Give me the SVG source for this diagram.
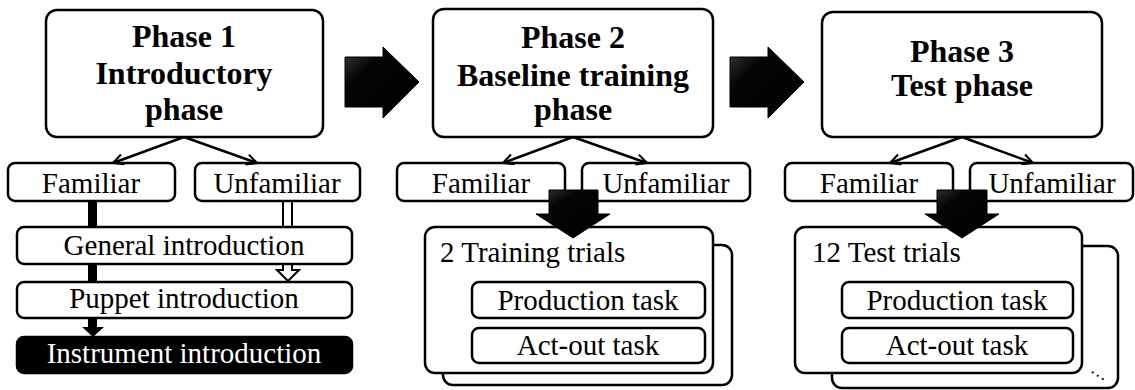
<svg xmlns="http://www.w3.org/2000/svg" width="1135" height="390" viewBox="0 0 1135 390">
<style>
.box{fill:#fff;stroke:#000;stroke-width:2.5}
.t{font-family:'Liberation Serif',Tinos,'Times New Roman',Times,'DejaVu Serif',serif;font-size:29px;fill:#000}
.c{text-anchor:middle}
.h{font-family:'Liberation Serif',Tinos,'Times New Roman',Times,'DejaVu Serif',serif;font-size:32px;font-weight:bold;text-anchor:middle;fill:#000}
.ln{stroke:#000;stroke-width:2.5;fill:none;marker-end:url(#open)}
.big{fill:url(#g);stroke:#000;stroke-width:1}
</style>
<defs>
<marker id="open" viewBox="0 0 12 12" refX="11" refY="6" markerWidth="5" markerHeight="5" orient="auto" markerUnits="strokeWidth">
<path d="M1,1 L11,6 L1,11" fill="none" stroke="#000" stroke-width="2"/>
</marker>
<linearGradient id="g" x1="0" y1="0" x2="1" y2="1">
<stop offset="0" stop-color="#3a3a3a"/>
<stop offset="0.3" stop-color="#050505"/>
<stop offset="1" stop-color="#000"/>
</linearGradient>
</defs>
<rect width="1135" height="390" fill="#fff"/>
<g id="connectors-back">
<path d="M88,201 V327 H82 L93,337 L104,327 H97 V201 Z" fill="#000"/>
<path d="M283,201 V270 H277 L288,281 L299,270 H292 V201 Z" fill="#fff" stroke="#000" stroke-width="2"/>
</g>
<g id="phase1">
<rect class="box" x="46" y="10" width="277" height="127" rx="11"/>
<text class="h" x="184" y="47">Phase 1</text>
<text class="h" x="184" y="84">Introductory</text>
<text class="h" x="184" y="120">phase</text>
</g>
<g id="phase2">
<rect class="box" x="433" y="9" width="280" height="128" rx="11"/>
<text class="h" x="573" y="48">Phase 2</text>
<text class="h" x="573" y="86">Baseline training</text>
<text class="h" x="573" y="120">phase</text>
</g>
<g id="phase3">
<rect class="box" x="822" y="12" width="280" height="125" rx="11"/>
<text class="h" x="962" y="62">Phase 3</text>
<text class="h" x="962" y="96">Test phase</text>
</g>
<g id="p1-familiar">
<rect class="box" x="8" y="163" width="167" height="38" rx="7"/>
<text class="t c" x="91" y="193">Familiar</text>
</g>
<g id="p1-unfamiliar">
<rect class="box" x="195" y="163" width="165" height="38" rx="7"/>
<text class="t c" x="277" y="193">Unfamiliar</text>
</g>
<g id="general-intro">
<rect class="box" x="17" y="227" width="335" height="37" rx="7"/>
<text class="t c" x="184" y="255">General introduction</text>
</g>
<g id="puppet-intro">
<rect class="box" x="17" y="282" width="335" height="36" rx="7"/>
<text class="t c" x="184" y="308">Puppet introduction</text>
</g>
<g id="instrument-intro">
<rect x="17" y="337" width="335" height="36" rx="7" fill="#000" stroke="#000" stroke-width="2.5"/>
<text class="t c" x="184" y="363" style="fill:#fff">Instrument introduction</text>
</g>
<g id="p2-familiar">
<rect class="box" x="397" y="163" width="168" height="38" rx="7"/>
<text class="t c" x="481" y="193">Familiar</text>
</g>
<g id="p2-unfamiliar">
<rect class="box" x="582" y="163" width="168" height="38" rx="7"/>
<text class="t c" x="666" y="193">Unfamiliar</text>
</g>
<g id="p2-trials">
<rect class="box" x="443" y="245" width="289" height="140" rx="10"/>
<rect class="box" x="425" y="227" width="288" height="146" rx="10"/>
<text class="t" x="440" y="262">2 Training trials</text>
</g>
<g id="p2-production">
<rect class="box" x="472" y="282" width="233" height="36" rx="7"/>
<text class="t c" x="588" y="310">Production task</text>
</g>
<g id="p2-actout">
<rect class="box" x="472" y="328" width="233" height="35" rx="7"/>
<text class="t c" x="588" y="355">Act-out task</text>
</g>
<g id="p3-familiar">
<rect class="box" x="785" y="163" width="168" height="38" rx="7"/>
<text class="t c" x="869" y="193">Familiar</text>
</g>
<g id="p3-unfamiliar">
<rect class="box" x="970" y="163" width="163" height="38" rx="7"/>
<text class="t c" x="1052" y="193">Unfamiliar</text>
</g>
<g id="p3-trials">
<rect class="box" x="832" y="246" width="286" height="142" rx="10"/>
<rect class="box" x="795" y="227" width="287" height="146" rx="10"/>
<text class="t" x="812" y="262">12 Test trials</text>
<text x="1099" y="377" transform="rotate(33 1099 374)" style="font-family:'Liberation Serif',Tinos,'DejaVu Serif',serif;font-size:18px;text-anchor:middle">…</text>
</g>
<g id="p3-production">
<rect class="box" x="842" y="282" width="231" height="36" rx="7"/>
<text class="t c" x="957" y="310">Production task</text>
</g>
<g id="p3-actout">
<rect class="box" x="842" y="328" width="231" height="35" rx="7"/>
<text class="t c" x="957" y="355">Act-out task</text>
</g>
<g id="connectors">
<line class="ln" x1="184" y1="137" x2="113" y2="163"/>
<line class="ln" x1="184" y1="137" x2="257" y2="163"/>
<line class="ln" x1="573" y1="137" x2="503" y2="163"/>
<line class="ln" x1="573" y1="137" x2="647" y2="163"/>
<line class="ln" x1="962" y1="137" x2="890" y2="163"/>
<line class="ln" x1="962" y1="137" x2="1033" y2="163"/>
<path class="big" d="M345,57 H383 V47 L419,82 L383,118 V107 H345 Z"/>
<path class="big" d="M730,57 H768 V47 L804,82 L768,118 V107 H730 Z"/>
<path class="big" d="M549,190 H598 V214 H610 L573,238 L536,214 H549 Z"/>
<path class="big" d="M937,190 H987 V214 H999 L962,238 L925,214 H937 Z"/>
</g>
</svg>
